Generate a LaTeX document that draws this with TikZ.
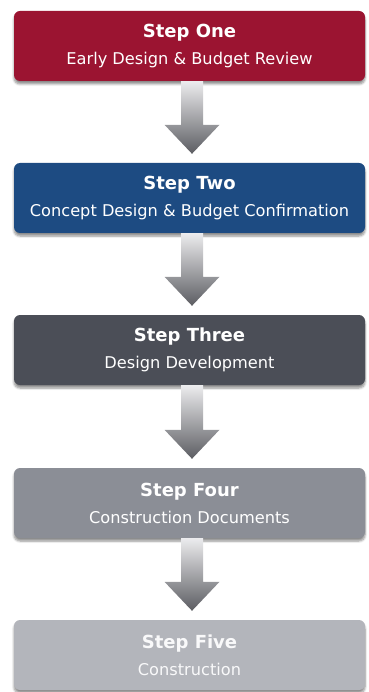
\documentclass[tikz,border=0pt]{standalone}
\usepackage{fontspec}
\setmainfont{DejaVu Sans}
\usetikzlibrary{calc,shadows.blur}

\definecolor{stepred}{HTML}{9B1431}
\definecolor{stepblue}{HTML}{1D4B82}
\definecolor{stepdark}{HTML}{4B4E57}
\definecolor{stepmid}{HTML}{8B8E96}
\definecolor{steplight}{HTML}{B3B5BB}
\definecolor{arrowtop}{HTML}{ECECEE}
\definecolor{arrowbot}{HTML}{5C5D62}

\newcommand{\steptitlefont}{\bfseries\fontsize{18}{27}\selectfont}

\tikzset{
  stepbox/.style={
    rounded corners=6pt, minimum width=351pt, minimum height=70pt,
    inner sep=0pt, align=center, text=white,
    font=\fontsize{16.2}{27}\selectfont,
    blur shadow={shadow xshift=0pt, shadow yshift=-3pt,
                 shadow blur steps=6, shadow opacity=45}
  },
  flowshade/.style={top color=arrowtop, bottom color=arrowbot}
}

% downward block arrow from the bottom of one step to the top of the next
\newcommand{\flowarrow}[2]{%
  \shade[flowshade] let \p1=(#1.south), \p2=(#2.north) in
    (\x1-8.5pt,\y1) -- (\x1+13.5pt,\y1) -- (\x1+13.5pt,\y2+38pt)
    -- (\x1+30pt,\y2+38pt) -- (\x1+2.5pt,\y2+9pt)
    -- (\x1-25pt,\y2+38pt) -- (\x1-8.5pt,\y2+38pt) -- cycle;}

\begin{document}
\begin{tikzpicture}[x=1pt,y=-1pt]
  \useasboundingbox (0,0) rectangle (368,692);

  \node[stepbox, fill=stepred]   (s1) at (189.5,46)
    {{\steptitlefont Step One}\\Early Design \& Budget Review};
  \node[stepbox, fill=stepblue]  (s2) at (189.5,198)
    {{\steptitlefont Step Two}\\Concept Design \& Budget Confirmation};
  \node[stepbox, fill=stepdark]  (s3) at (189.5,350)
    {{\steptitlefont Step Three}\\Design Development};
  \node[stepbox, fill=stepmid]   (s4) at (189.5,503)
    {{\steptitlefont Step Four}\\Construction Documents};
  \node[stepbox, fill=steplight, text=white!92!steplight] (s5) at (189.5,655)
    {{\steptitlefont Step Five}\\Construction};

  \flowarrow{s1}{s2}
  \flowarrow{s2}{s3}
  \flowarrow{s3}{s4}
  \flowarrow{s4}{s5}
\end{tikzpicture}
\end{document}
